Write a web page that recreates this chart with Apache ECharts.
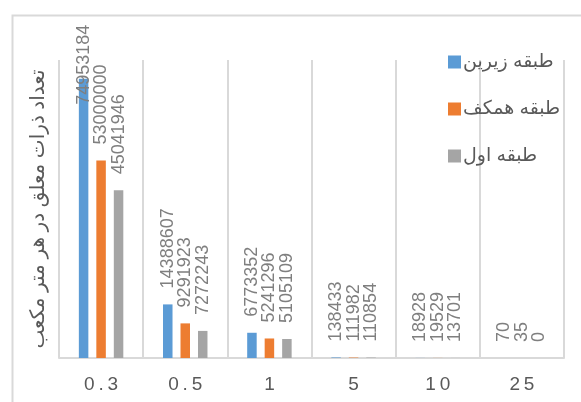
<!DOCTYPE html>
<html><head><meta charset="utf-8">
<script src="https://cdn.jsdelivr.net/npm/echarts@6/dist/echarts.min.js"></script>
<style>html,body{margin:0;padding:0;background:#fff}#c{width:581px;height:402px}</style>
</head><body><div id="c"></div>
<script>
const categories = ['0.3', '0.5', '1', '5', '10', '25'];
const seriesNames = ['طبقه زیرین', 'طبقه همکف', 'طبقه اول'];
const basement = [74953184, 14388607, 6773352, 138433, 18928, 70];
const groundFloor = [53000000, 9291923, 5241296, 111982, 19529, 35];
const firstFloor = [45041946, 7272243, 5105109, 110854, 13701, 0];
const yAxisTitle = 'تعداد ذرات معلق در هر متر مکعب';
const colors = ['#5b9bd5', '#ed7d31', '#a5a5a5'];
const FONT = '"Liberation Sans", "DejaVu Sans", Arial, sans-serif';

const chart = echarts.init(document.getElementById('c'), null, {renderer: 'canvas'});
const values = [basement, groundFloor, firstFloor];
const yMax = 80000000;

function buildData(arr) {
  return arr.map(v => {
    if (v > 0.9 * yMax) {
      return {value: v, label: {distance: -26}};
    }
    return v;
  });
}

chart.setOption({
  animation: false,
  color: colors,
  textStyle: {fontFamily: FONT},
  graphic: [{
    type: 'rect', left: 10, top: 13, z: -1,
    shape: {width: 620, height: 420},
    style: {fill: 'none', stroke: '#d9d9d9', lineWidth: 2}
  }],
  grid: {left: 59, right: 17, top: 60, bottom: 44, containLabel: false},
  legend: {
    orient: 'vertical', left: 443, top: 46,
    icon: 'rect', itemWidth: 13, itemHeight: 13, itemGap: 25,
    textStyle: {fontSize: 19, color: '#595959', fontFamily: FONT, padding: [0, 0, 0, -3], lineHeight: 22},
    data: seriesNames
  },
  xAxis: {
    type: 'category', data: categories,
    axisLine: {lineStyle: {color: '#d9d9d9', width: 2}},
    axisTick: {show: false},
    splitLine: {show: true, lineStyle: {color: '#d9d9d9', width: 2}},
    axisLabel: {
      fontSize: 19, color: '#595959', margin: 17,
      formatter: s => s.split('').join('\u2009')
    }
  },
  yAxis: {
    type: 'value', min: 0, max: yMax,
    name: yAxisTitle, nameLocation: 'middle', nameGap: 11, nameRotate: 90,
    nameTextStyle: {fontSize: 20, color: '#595959', fontFamily: FONT},
    axisLine: {show: false}, axisTick: {show: false},
    axisLabel: {show: false}, splitLine: {show: false}
  },
  series: values.map((arr, i) => ({
    name: seriesNames[i], type: 'bar',
    barWidth: 9.5, barGap: '84%',
    data: buildData(arr),
    label: {
      show: true, position: 'top', distance: 16, rotate: 90,
      align: 'left', verticalAlign: 'middle',
      fontSize: 18, color: '#7f7f7f', fontFamily: FONT
    }
  }))
});
</script></body></html>
